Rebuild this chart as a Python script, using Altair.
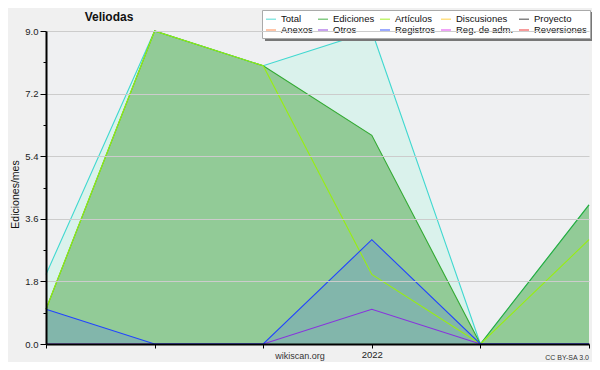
import altair as alt
import pandas as pd

months = ["2021-10", "2021-11", "2021-12", "2022-01", "2022-02", "2022-03"]
total = [2, 9, 8, 9, 0, 4]
ediciones = [1, 9, 8, 6, 0, 4]
articulos = [1, 9, 8, 2, 0, 3]
otros = [0, 0, 0, 1, 0, 0]
registros = [1, 0, 0, 3, 0, 0]

# legend entries in column-major order (2 rows x 5 columns)
legend_names = ["Total", "Anexos", "Ediciones", "Otros", "Artículos", "Registros",
                "Discusiones", "Reg. de adm.", "Proyecto", "Reversiones"]
legend_colors = ["#40d8d0", "#ff7f3f", "#33aa33", "#8833dd", "#99ee11", "#2244ff",
                 "#ffcc33", "#dd33ee", "#333333", "#ee2222"]

y_ticks = [0, 0.9, 1.8, 2.7, 3.6, 4.5, 5.4, 6.3, 7.2, 8.1, 9.0]

series = [("Total", total), ("Ediciones", ediciones), ("Artículos", articulos),
          ("Otros", otros), ("Registros", registros)]
rows = []
for name, vals in series:
    for m, v in zip(months, vals):
        rows.append({"mes": m, "serie": name, "valor": v})
df = pd.DataFrame(rows)

FONT = "Liberation Sans"
MINOR = "round(datum.value/0.9) % 2 == 1"

x_enc = alt.X("mes:O", scale=alt.Scale(type="point", padding=0), sort=months,
              axis=alt.Axis(title=None, labelExpr="datum.value == '2022-01' ? '2022' : ''",
                            labelAngle=0, tickSize=4, labelPadding=1, labelFontSize=9.5,
                            labelFont=FONT, labelColor="#222", domainColor="#000",
                            domainWidth=2, tickColor="#000", tickWidth=1, grid=False,
                            zindex=1))
y_enc = alt.Y("valor:Q", scale=alt.Scale(domain=[0, 9], nice=False),
              axis=alt.Axis(title="Ediciones/mes", values=y_ticks, format=".1f",
                            labelExpr=f"{MINOR} ? '' : datum.label",
                            tickSize={"condition": {"test": MINOR, "value": 3}, "value": 6},
                            gridOpacity={"condition": {"test": MINOR, "value": 0}, "value": 1},
                            gridColor="#cccccc", gridWidth=1,
                            labelFont=FONT, labelFontSize=9.5, labelColor="#222", labelPadding=2,
                            domainColor="#000", domainWidth=2, tickColor="#000",
                            titleFont=FONT, titleFontSize=10.5, titleFontWeight="normal",
                            titleColor="#111", titleX=-31, titleY=163, titleAngle=270,
                            titleAlign="center", titleBaseline="middle", zindex=1))

base = alt.Chart(df)

area_total = base.transform_filter("datum.serie == 'Total'").mark_area(
    fill="#daf2ec", opacity=1).encode(x=x_enc, y=y_enc)
area_ed = base.transform_filter("datum.serie == 'Ediciones'").mark_area(
    fill="#92cb97", opacity=1).encode(x=x_enc, y=y_enc)
area_reg = base.transform_filter("datum.serie == 'Registros'").mark_area(
    fill="#4466ff", opacity=0.2).encode(x=x_enc, y=y_enc)

lines = base.mark_line(strokeWidth=1.1).encode(
    x=x_enc, y=y_enc,
    color=alt.Color("serie:N", scale=alt.Scale(domain=legend_names, range=legend_colors),
                    legend=alt.Legend(title=None, orient="none", legendX=216, legendY=-21,
                                      columns=5, symbolType="stroke", symbolSize=100,
                                      symbolStrokeWidth=1.5, symbolOpacity=0.6,
                                      labelFont=FONT, labelFontSize=9.5, labelColor="#111",
                                      labelOffset=4, columnPadding=2, rowPadding=0,
                                      padding=3, fillColor="white", strokeColor="#aaaaaa",
                                      labelLimit=200)),
    order=alt.value(0))

one = alt.Data(values=[{"k": 1}])
shadow = alt.Chart(one).mark_rect(fill="#777777").encode(
    x=alt.value(219), x2=alt.value(549), y=alt.value(-19), y2=alt.value(10))

title = alt.Chart(one).mark_text(font=FONT, fontSize=12, fontWeight="bold", color="#111",
                                 align="center", baseline="middle").encode(
    x=alt.value(63), y=alt.value(-14), text=alt.value("Veliodas"))
site = alt.Chart(one).mark_text(font=FONT, fontSize=9, color="#333", baseline="bottom").encode(
    x=alt.value(254), y=alt.value(330), text=alt.value("wikiscan.org"))
lic = alt.Chart(one).mark_text(font=FONT, fontSize=7, color="#333", align="right",
                               baseline="bottom").encode(
    x=alt.value(543), y=alt.value(330), text=alt.value("CC BY-SA 3.0"))

chart = alt.layer(area_total, area_ed, area_reg, lines, shadow, title, site, lic).properties(
    width=543, height=313,
    autosize=alt.AutoSizeParams(type="none"),
    padding={"left": 38, "top": 23, "right": 3, "bottom": 18},
    background="#f0f0f0",
).configure_view(fill="#eff0f2", stroke=None)

chart.save("out.html", embed_options={"renderer": "svg", "actions": False})
